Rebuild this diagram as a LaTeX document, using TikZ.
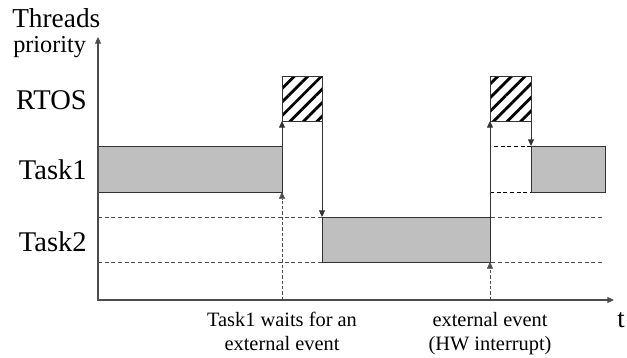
\documentclass[tikz,border=0pt]{standalone}
\usepackage{fontspec}
\setmainfont{Liberation Serif}
\usetikzlibrary{arrows.meta,patterns.meta,fit}

\begin{document}
\begin{tikzpicture}[x=0.75pt,y=-0.75pt,
    run/.style={draw=black!80,fill=black!25,line width=0.7pt,inner sep=0pt,outer sep=0pt},
    os/.style={draw=black!80,line width=0.7pt,inner sep=0pt,outer sep=0pt,
      pattern={Lines[angle=45,distance=7.2pt,line width=2.1pt]},pattern color=black},
    idle/.style={draw=black,dash pattern=on 3pt off 2pt,line width=0.7pt,inner sep=0pt,outer sep=0pt},
    tip/.style={-{Triangle[length=5pt,width=4.5pt]}},
    flow/.style={tip,draw=black!80,line width=0.75pt},
    trig/.style={tip,draw=black!70,line width=0.5pt,dash pattern=on 2.5pt off 1.5pt},
    guide/.style={draw=black!70,line width=0.5pt,dash pattern=on 3pt off 2pt},
    lab/.style={anchor=east,inner sep=0pt,font=\fontsize{21.4}{24}\selectfont},
    note/.style={anchor=north,align=center,inner sep=0pt,font=\fontsize{15.3}{18}\selectfont}]
  \useasboundingbox (0,0) rectangle (627,357);

  % axes and level guides
  \coordinate (o) at (98,300);
  \coordinate (ytop) at (98,37);
  \coordinate (xend) at (614,300);
  \coordinate (e1) at (282,300);
  \coordinate (e2) at (490,300);
  \coordinate (g1a) at (98,217);
  \coordinate (g1b) at (604,217);
  \coordinate (g2a) at (98,262);
  \coordinate (g2b) at (604,262);
  \draw[guide] (g1a) -- (g1b);
  \draw[guide] (g2a) -- (g2b);

  % running threads
  \node[run,fit={(98,146) (282,192)}] (t1a) {};
  \node[os,fit={(282,76) (322,121)}] (os1) {};
  \node[run,fit={(322,217) (490,262)}] (t2) {};
  \node[os,fit={(490,76) (531,121)}] (os2) {};
  \node[idle,fit={(490,146) (531,192)}] (t1w) {};
  \node[run,fit={(531,146) (605,192)}] (t1b) {};

  % switches
  \begin{scope}
    \draw[trig] (e1) -- (t1a.south east);
    \draw[flow] (t1a.south east) -- (os1.south west);
    \draw[flow] (os1.south east) -- (t2.north west);
    \draw[trig] (e2) -- (t2.south east);
    \draw[flow] (t2.south east) -- (os2.south west);
    \draw[flow] (os2.south east) -- (t1b.north west);
  \end{scope}

  \draw[draw=black!70,line width=0.8pt,
    {Triangle[length=5pt,width=4.5pt]}-{Triangle[length=5pt,width=4.5pt]}]
    (ytop) -- (o) -- (xend);

  % labels
  \node[anchor=base west,inner sep=0pt,font=\fontsize{20.5}{24}\selectfont]
    (thr) at (12,27) {Threads};
  \node[anchor=base west,inner sep=0pt,font=\fontsize{18.2}{22}\selectfont]
    (prio) at (13,52) {priority};
  \node[lab] (lrtos) at (87,100.5) {RTOS};
  \node[lab] (ltask1) at (87,170) {Task1};
  \node[lab] (ltask2) at (87,241.5) {Task2};
  \node[anchor=base west,inner sep=0pt,font=\fontsize{20}{24}\selectfont]
    (lt) at (617,327) {t};
  \node[note] (n1) at (282,312) {Task1 waits for an\\external event};
  \node[note] (n2) at (490,312) {external event\\(HW interrupt)};
\end{tikzpicture}
\end{document}
